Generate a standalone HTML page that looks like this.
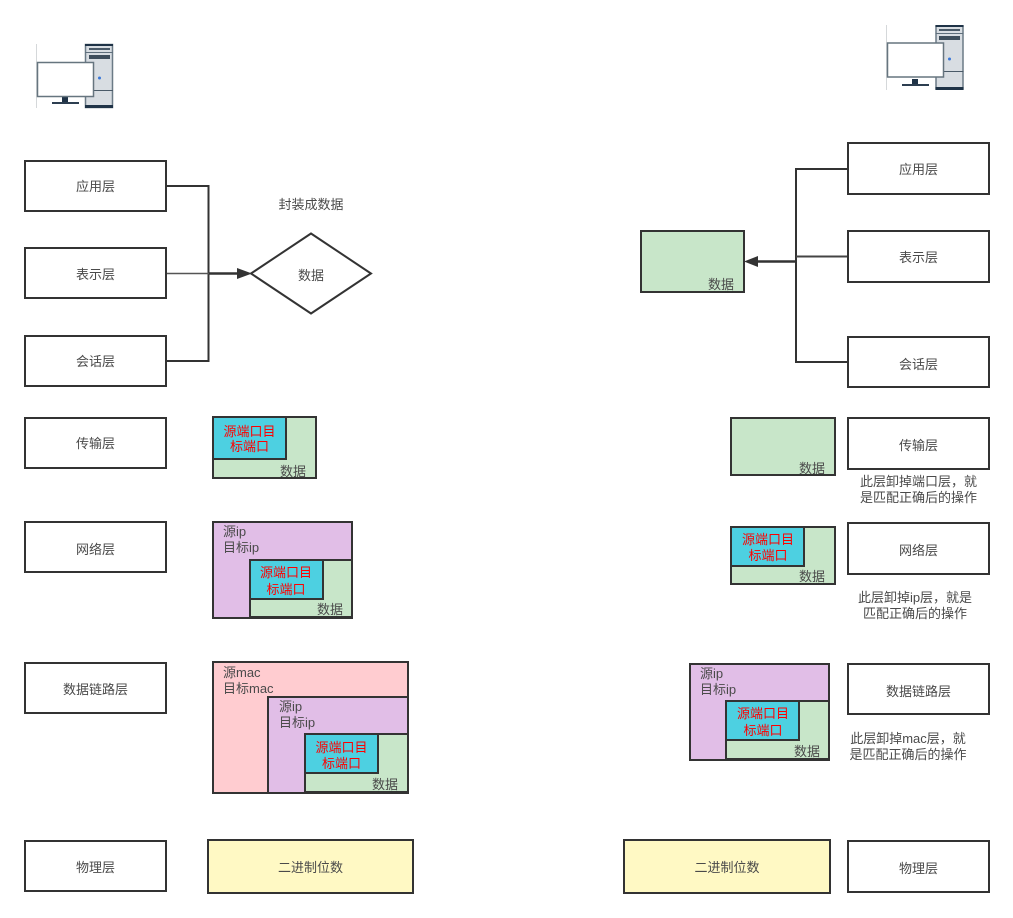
<!DOCTYPE html>
<html><head><meta charset="utf-8"><style>
html,body{margin:0;padding:0;background:#fff}
svg{display:block}
text{font-family:"Liberation Sans","Noto Sans CJK SC",sans-serif;font-size:13px;fill:#4a4a4a;text-anchor:middle}
.l{text-anchor:start}
text.r{fill:#f00}
rect,path.s,polygon.s{stroke:#333;stroke-width:2}
.w{fill:#fff}.g{fill:#c8e6c9}.b{fill:#4dd0e1}.p{fill:#e1bee7}.k{fill:#ffccd0}.y{fill:#fff9c4}
path.s{fill:none}
</style></head><body>
<svg width="1013" height="918" viewBox="0 0 1013 918" xmlns="http://www.w3.org/2000/svg">

<!-- left computer -->
<g>
<path d="M36.500 44V108" stroke="#d5d8da" stroke-width="1"/>
<rect x="85.500" y="44.500" width="27" height="63" style="fill:#d8dde2;stroke:#6b7a86;stroke-width:1.500"/>
<rect x="85" y="44" width="28" height="2" style="fill:#1f3347;stroke:none"/>
<rect x="85" y="105" width="28" height="3" style="fill:#1f3347;stroke:none"/>
<rect x="89" y="48" width="21" height="2" style="fill:#4a5a68;stroke:none"/>
<rect x="89" y="55" width="21" height="4" style="fill:#3e4e5c;stroke:none"/>
<rect x="85" y="52" width="28" height="1" style="fill:#5f6f7c;stroke:none"/>
<rect x="85" y="90" width="28" height="1" style="fill:#4a5a68;stroke:none"/>
<circle cx="99.500" cy="78" r="1.500" fill="#3b78d8"/>
<rect x="62" y="97" width="6" height="5" style="fill:#1f3347;stroke:none"/>
<rect x="52" y="102" width="27" height="2" style="fill:#2c3e50;stroke:none"/>
<rect x="37.500" y="62.500" width="56" height="34" style="fill:#fff;stroke:#66757f;stroke-width:1.500"/>
</g>

<!-- right computer -->
<g>
<path d="M886.500 25V90" stroke="#d5d8da" stroke-width="1"/>
<rect x="936" y="26" width="27" height="63" style="fill:#d8dde2;stroke:#6b7a86;stroke-width:1.500"/>
<rect x="935.500" y="25" width="28" height="2" style="fill:#1f3347;stroke:none"/>
<rect x="935.500" y="87" width="28" height="3" style="fill:#1f3347;stroke:none"/>
<rect x="939" y="29" width="21" height="2" style="fill:#4a5a68;stroke:none"/>
<rect x="939" y="36" width="21" height="4" style="fill:#3e4e5c;stroke:none"/>
<rect x="935.500" y="33" width="28" height="1" style="fill:#5f6f7c;stroke:none"/>
<rect x="935.500" y="71" width="28" height="1" style="fill:#4a5a68;stroke:none"/>
<circle cx="949.500" cy="59" r="1.500" fill="#3b78d8"/>
<rect x="912" y="79" width="6" height="5" style="fill:#1f3347;stroke:none"/>
<rect x="902" y="84" width="27" height="2" style="fill:#2c3e50;stroke:none"/>
<rect x="887.500" y="43" width="56" height="34" style="fill:#fff;stroke:#66757f;stroke-width:1.500"/>
</g>

<!-- left connectors -->
<path class="s" d="M166 186H208.500V361H166"/>
<path d="M166 273.500H209" stroke="#555" stroke-width="1.500"/>
<path d="M209 273.500H238" stroke="#333" stroke-width="2.500"/>
<polygon points="237,268 252,273.500 237,279" fill="#333"/>
<polygon class="s" points="251,273.500 311,233.500 371,273.500 311,313.500" fill="#fff"/>
<text x="311" y="280">数据</text>
<text x="311" y="209">封装成数据</text>

<!-- right connectors -->
<path class="s" d="M848 169H796V362H848"/>
<path d="M796 256.500H848" stroke="#444" stroke-width="2"/>
<path d="M796 261.500H757" stroke="#333" stroke-width="2.500"/>
<polygon points="758,256 744,261.500 758,267" fill="#333"/>

<!-- left layer boxes -->
<rect class="w" x="25" y="161" width="141" height="50"/><text x="95.500" y="191">应用层</text>
<rect class="w" x="25" y="248" width="141" height="50"/><text x="95.500" y="279">表示层</text>
<rect class="w" x="25" y="336" width="141" height="50"/><text x="95.500" y="366">会话层</text>
<rect class="w" x="25" y="418" width="141" height="50"/><text x="95.500" y="448">传输层</text>
<rect class="w" x="25" y="522" width="141" height="50"/><text x="95.500" y="554">网络层</text>
<rect class="w" x="25" y="663" width="141" height="50"/><text x="95.500" y="694">数据链路层</text>
<rect class="w" x="25" y="841" width="141" height="50"/><text x="95.500" y="872">物理层</text>

<!-- right layer boxes -->
<rect class="w" x="848" y="143" width="141" height="51"/><text x="918.500" y="174">应用层</text>
<rect class="w" x="848" y="231" width="141" height="51"/><text x="918.500" y="262">表示层</text>
<rect class="w" x="848" y="337" width="141" height="50"/><text x="918.500" y="369">会话层</text>
<rect class="w" x="848" y="418" width="141" height="51"/><text x="918.500" y="450">传输层</text>
<rect class="w" x="848" y="523" width="141" height="51"/><text x="918.500" y="555">网络层</text>
<rect class="w" x="848" y="664" width="141" height="50"/><text x="918.500" y="696">数据链路层</text>
<rect class="w" x="848" y="841" width="141" height="51"/><text x="918.500" y="873">物理层</text>

<!-- left transport -->
<rect class="g" x="213" y="417" width="103" height="61"/>
<rect class="b" x="213" y="417" width="73" height="42"/>
<text class="r" x="249.500" y="436">源端口目</text><text class="r" x="249.500" y="451">标端口</text>
<text x="293" y="476">数据</text>

<!-- left network -->
<rect class="p" x="213" y="522" width="139" height="96"/>
<rect class="g" x="250" y="560" width="102" height="57"/>
<rect class="b" x="250" y="560" width="73" height="39"/>
<text class="l" x="223" y="536">源ip</text><text class="l" x="223" y="552">目标ip</text>
<text class="r" x="286" y="577">源端口目</text><text class="r" x="286" y="594">标端口</text>
<text x="330" y="614">数据</text>

<!-- left datalink -->
<rect class="k" x="213" y="662" width="195" height="131"/>
<rect class="p" x="268" y="697" width="140" height="96"/>
<rect class="g" x="305" y="734" width="103" height="58"/>
<rect class="b" x="305" y="734" width="73" height="39"/>
<text class="l" x="223" y="677">源mac</text><text class="l" x="223" y="693">目标mac</text>
<text class="l" x="279" y="711">源ip</text><text class="l" x="279" y="727">目标ip</text>
<text class="r" x="341.500" y="752">源端口目</text><text class="r" x="341.500" y="768">标端口</text>
<text x="385" y="789">数据</text>

<!-- right stack -->
<rect class="g" x="641" y="231" width="103" height="61"/>
<text x="721" y="289">数据</text>
<rect class="g" x="731" y="418" width="104" height="57"/>
<text x="812" y="473">数据</text>
<text x="918.500" y="486">此层卸掉端口层，就</text><text x="918.500" y="502">是匹配正确后的操作</text>

<rect class="g" x="731" y="527" width="104" height="57"/>
<rect class="b" x="731" y="527" width="73" height="39"/>
<text class="r" x="768" y="544">源端口目</text><text class="r" x="768" y="560">标端口</text>
<text x="812" y="581">数据</text>
<text x="915" y="602">此层卸掉ip层，就是</text><text x="915" y="618">匹配正确后的操作</text>

<rect class="p" x="690" y="664" width="139" height="96"/>
<rect class="g" x="726" y="701" width="103" height="58"/>
<rect class="b" x="726" y="701" width="73" height="39"/>
<text class="l" x="700" y="678">源ip</text><text class="l" x="700" y="694">目标ip</text>
<text class="r" x="763" y="718">源端口目</text><text class="r" x="763" y="735">标端口</text>
<text x="807" y="756">数据</text>
<text x="908" y="743">此层卸掉mac层，就</text><text x="908" y="759">是匹配正确后的操作</text>

<!-- physical -->
<rect class="y" x="208" y="840" width="205" height="53"/><text x="310.500" y="872">二进制位数</text>
<rect class="y" x="624" y="840" width="206" height="53"/><text x="727" y="872">二进制位数</text>
</svg>
</body></html>
